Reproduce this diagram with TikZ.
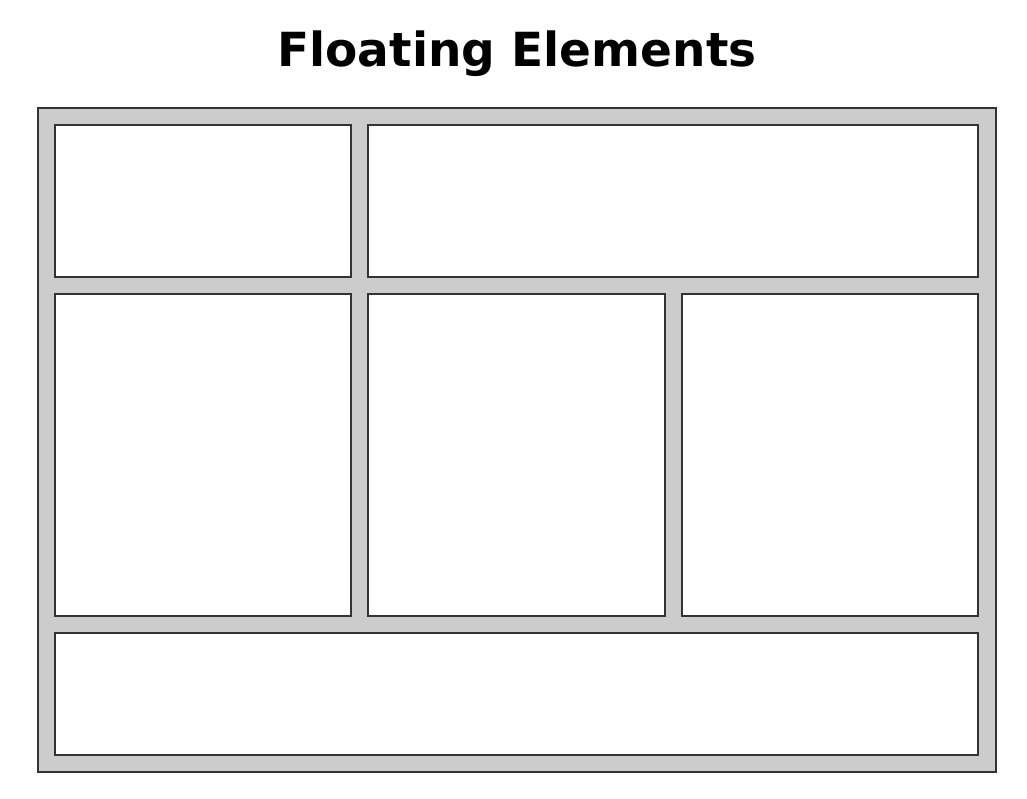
\documentclass[tikz,border=0pt]{standalone}
\usepackage{fontspec}
\setmainfont{DejaVu Sans}
\begin{document}
\begin{tikzpicture}[x=1pt,y=-1pt,
  frame/.style={draw=black!80,line width=2pt,fill=black!20},
  panel/.style={draw=black!80,line width=2pt,fill=white},
  titletext/.style={font=\bfseries\fontsize{47}{57}\selectfont,anchor=base}]
\useasboundingbox (0,0) rectangle (1027,799);
\fill[white] (0,0) rectangle (1027,799);
\node[titletext] (title) at (517,67) {Floating Elements};
\draw[frame] (38,108) rectangle (996,772);
\draw[panel] (55,125) rectangle (351,277);
\draw[panel] (368,125) rectangle (978,277);
\draw[panel] (55,294) rectangle (351,616);
\draw[panel] (368,294) rectangle (665,616);
\draw[panel] (682,294) rectangle (978,616);
\draw[panel] (55,633) rectangle (978,755);
\end{tikzpicture}
\end{document}
